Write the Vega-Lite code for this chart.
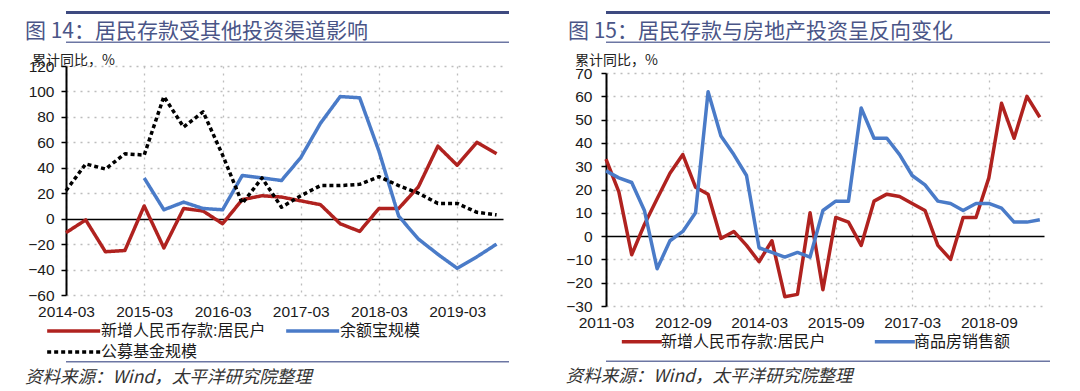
{
  "$schema": "https://vega.github.io/schema/vega-lite/v6.json",
  "padding": {"left": 25, "top": 11, "right": 5, "bottom": 0},
  "background": "white",
  "datasets": {
    "left": [
      {"date": "2014-03-01", "series": "新增人民币存款:居民户", "value": -11},
      {"date": "2014-06-01", "series": "新增人民币存款:居民户", "value": -1},
      {"date": "2014-09-01", "series": "新增人民币存款:居民户", "value": -26},
      {"date": "2014-12-01", "series": "新增人民币存款:居民户", "value": -25},
      {"date": "2015-03-01", "series": "新增人民币存款:居民户", "value": 10},
      {"date": "2015-06-01", "series": "新增人民币存款:居民户", "value": -23},
      {"date": "2015-09-01", "series": "新增人民币存款:居民户", "value": 8},
      {"date": "2015-12-01", "series": "新增人民币存款:居民户", "value": 6},
      {"date": "2016-03-01", "series": "新增人民币存款:居民户", "value": -4},
      {"date": "2016-06-01", "series": "新增人民币存款:居民户", "value": 15},
      {"date": "2016-09-01", "series": "新增人民币存款:居民户", "value": 18},
      {"date": "2016-12-01", "series": "新增人民币存款:居民户", "value": 17},
      {"date": "2017-03-01", "series": "新增人民币存款:居民户", "value": 14},
      {"date": "2017-06-01", "series": "新增人民币存款:居民户", "value": 11},
      {"date": "2017-09-01", "series": "新增人民币存款:居民户", "value": -4},
      {"date": "2017-12-01", "series": "新增人民币存款:居民户", "value": -10},
      {"date": "2018-03-01", "series": "新增人民币存款:居民户", "value": 8},
      {"date": "2018-06-01", "series": "新增人民币存款:居民户", "value": 8},
      {"date": "2018-09-01", "series": "新增人民币存款:居民户", "value": 25},
      {"date": "2018-12-01", "series": "新增人民币存款:居民户", "value": 57},
      {"date": "2019-03-01", "series": "新增人民币存款:居民户", "value": 42},
      {"date": "2019-06-01", "series": "新增人民币存款:居民户", "value": 60},
      {"date": "2019-09-01", "series": "新增人民币存款:居民户", "value": 51},
      {"date": "2015-03-01", "series": "余额宝规模", "value": 32},
      {"date": "2015-06-01", "series": "余额宝规模", "value": 7},
      {"date": "2015-09-01", "series": "余额宝规模", "value": 13},
      {"date": "2015-12-01", "series": "余额宝规模", "value": 8},
      {"date": "2016-03-01", "series": "余额宝规模", "value": 7},
      {"date": "2016-06-01", "series": "余额宝规模", "value": 34},
      {"date": "2016-09-01", "series": "余额宝规模", "value": 32},
      {"date": "2016-12-01", "series": "余额宝规模", "value": 30},
      {"date": "2017-03-01", "series": "余额宝规模", "value": 48},
      {"date": "2017-06-01", "series": "余额宝规模", "value": 75},
      {"date": "2017-09-01", "series": "余额宝规模", "value": 96},
      {"date": "2017-12-01", "series": "余额宝规模", "value": 95},
      {"date": "2018-03-01", "series": "余额宝规模", "value": 53},
      {"date": "2018-06-01", "series": "余额宝规模", "value": 2},
      {"date": "2018-09-01", "series": "余额宝规模", "value": -16},
      {"date": "2018-12-01", "series": "余额宝规模", "value": -28},
      {"date": "2019-03-01", "series": "余额宝规模", "value": -39},
      {"date": "2019-06-01", "series": "余额宝规模", "value": -30},
      {"date": "2019-09-01", "series": "余额宝规模", "value": -20},
      {"date": "2014-03-01", "series": "公募基金规模", "value": 22},
      {"date": "2014-06-01", "series": "公募基金规模", "value": 43},
      {"date": "2014-09-01", "series": "公募基金规模", "value": 39},
      {"date": "2014-12-01", "series": "公募基金规模", "value": 51},
      {"date": "2015-03-01", "series": "公募基金规模", "value": 50},
      {"date": "2015-06-01", "series": "公募基金规模", "value": 96},
      {"date": "2015-09-01", "series": "公募基金规模", "value": 72},
      {"date": "2015-12-01", "series": "公募基金规模", "value": 84},
      {"date": "2016-03-01", "series": "公募基金规模", "value": 50},
      {"date": "2016-06-01", "series": "公募基金规模", "value": 12},
      {"date": "2016-09-01", "series": "公募基金规模", "value": 32},
      {"date": "2016-12-01", "series": "公募基金规模", "value": 9},
      {"date": "2017-03-01", "series": "公募基金规模", "value": 18},
      {"date": "2017-06-01", "series": "公募基金规模", "value": 26},
      {"date": "2017-09-01", "series": "公募基金规模", "value": 26},
      {"date": "2017-12-01", "series": "公募基金规模", "value": 27},
      {"date": "2018-03-01", "series": "公募基金规模", "value": 33},
      {"date": "2018-06-01", "series": "公募基金规模", "value": 26},
      {"date": "2018-09-01", "series": "公募基金规模", "value": 20},
      {"date": "2018-12-01", "series": "公募基金规模", "value": 12},
      {"date": "2019-03-01", "series": "公募基金规模", "value": 12},
      {"date": "2019-06-01", "series": "公募基金规模", "value": 5},
      {"date": "2019-09-01", "series": "公募基金规模", "value": 3}
    ],
    "right": [
      {"date": "2011-03-01", "series": "新增人民币存款:居民户", "value": 33},
      {"date": "2011-06-01", "series": "新增人民币存款:居民户", "value": 19},
      {"date": "2011-09-01", "series": "新增人民币存款:居民户", "value": -8},
      {"date": "2011-12-01", "series": "新增人民币存款:居民户", "value": 5},
      {"date": "2012-03-01", "series": "新增人民币存款:居民户", "value": 16},
      {"date": "2012-06-01", "series": "新增人民币存款:居民户", "value": 27},
      {"date": "2012-09-01", "series": "新增人民币存款:居民户", "value": 35},
      {"date": "2012-12-01", "series": "新增人民币存款:居民户", "value": 21},
      {"date": "2013-03-01", "series": "新增人民币存款:居民户", "value": 18},
      {"date": "2013-06-01", "series": "新增人民币存款:居民户", "value": -1},
      {"date": "2013-09-01", "series": "新增人民币存款:居民户", "value": 2},
      {"date": "2013-12-01", "series": "新增人民币存款:居民户", "value": -4},
      {"date": "2014-03-01", "series": "新增人民币存款:居民户", "value": -11},
      {"date": "2014-06-01", "series": "新增人民币存款:居民户", "value": -2},
      {"date": "2014-09-01", "series": "新增人民币存款:居民户", "value": -26},
      {"date": "2014-12-01", "series": "新增人民币存款:居民户", "value": -25},
      {"date": "2015-03-01", "series": "新增人民币存款:居民户", "value": 10},
      {"date": "2015-06-01", "series": "新增人民币存款:居民户", "value": -23},
      {"date": "2015-09-01", "series": "新增人民币存款:居民户", "value": 8},
      {"date": "2015-12-01", "series": "新增人民币存款:居民户", "value": 6},
      {"date": "2016-03-01", "series": "新增人民币存款:居民户", "value": -4},
      {"date": "2016-06-01", "series": "新增人民币存款:居民户", "value": 15},
      {"date": "2016-09-01", "series": "新增人民币存款:居民户", "value": 18},
      {"date": "2016-12-01", "series": "新增人民币存款:居民户", "value": 17},
      {"date": "2017-03-01", "series": "新增人民币存款:居民户", "value": 14},
      {"date": "2017-06-01", "series": "新增人民币存款:居民户", "value": 11},
      {"date": "2017-09-01", "series": "新增人民币存款:居民户", "value": -4},
      {"date": "2017-12-01", "series": "新增人民币存款:居民户", "value": -10},
      {"date": "2018-03-01", "series": "新增人民币存款:居民户", "value": 8},
      {"date": "2018-06-01", "series": "新增人民币存款:居民户", "value": 8},
      {"date": "2018-09-01", "series": "新增人民币存款:居民户", "value": 25},
      {"date": "2018-12-01", "series": "新增人民币存款:居民户", "value": 57},
      {"date": "2019-03-01", "series": "新增人民币存款:居民户", "value": 42},
      {"date": "2019-06-01", "series": "新增人民币存款:居民户", "value": 60},
      {"date": "2019-09-01", "series": "新增人民币存款:居民户", "value": 51},
      {"date": "2011-03-01", "series": "商品房销售额", "value": 28},
      {"date": "2011-06-01", "series": "商品房销售额", "value": 25},
      {"date": "2011-09-01", "series": "商品房销售额", "value": 23},
      {"date": "2011-12-01", "series": "商品房销售额", "value": 11},
      {"date": "2012-03-01", "series": "商品房销售额", "value": -14},
      {"date": "2012-06-01", "series": "商品房销售额", "value": -2},
      {"date": "2012-09-01", "series": "商品房销售额", "value": 2},
      {"date": "2012-12-01", "series": "商品房销售额", "value": 10},
      {"date": "2013-03-01", "series": "商品房销售额", "value": 62},
      {"date": "2013-06-01", "series": "商品房销售额", "value": 43},
      {"date": "2013-09-01", "series": "商品房销售额", "value": 35},
      {"date": "2013-12-01", "series": "商品房销售额", "value": 26},
      {"date": "2014-03-01", "series": "商品房销售额", "value": -5},
      {"date": "2014-06-01", "series": "商品房销售额", "value": -7},
      {"date": "2014-09-01", "series": "商品房销售额", "value": -9},
      {"date": "2014-12-01", "series": "商品房销售额", "value": -7},
      {"date": "2015-03-01", "series": "商品房销售额", "value": -9},
      {"date": "2015-06-01", "series": "商品房销售额", "value": 11},
      {"date": "2015-09-01", "series": "商品房销售额", "value": 15},
      {"date": "2015-12-01", "series": "商品房销售额", "value": 15},
      {"date": "2016-03-01", "series": "商品房销售额", "value": 55},
      {"date": "2016-06-01", "series": "商品房销售额", "value": 42},
      {"date": "2016-09-01", "series": "商品房销售额", "value": 42},
      {"date": "2016-12-01", "series": "商品房销售额", "value": 35},
      {"date": "2017-03-01", "series": "商品房销售额", "value": 26},
      {"date": "2017-06-01", "series": "商品房销售额", "value": 22},
      {"date": "2017-09-01", "series": "商品房销售额", "value": 15},
      {"date": "2017-12-01", "series": "商品房销售额", "value": 14},
      {"date": "2018-03-01", "series": "商品房销售额", "value": 11},
      {"date": "2018-06-01", "series": "商品房销售额", "value": 14},
      {"date": "2018-09-01", "series": "商品房销售额", "value": 14},
      {"date": "2018-12-01", "series": "商品房销售额", "value": 12},
      {"date": "2019-03-01", "series": "商品房销售额", "value": 6},
      {"date": "2019-06-01", "series": "商品房销售额", "value": 6},
      {"date": "2019-09-01", "series": "商品房销售额", "value": 7}
    ]
  },
  "spacing": 56,
  "resolve": {
    "scale": {"x": "independent", "y": "independent", "color": "independent", "strokeDash": "independent", "strokeWidth": "independent"},
    "legend": {"color": "independent", "strokeDash": "independent", "strokeWidth": "independent"}
  },
  "hconcat": [
    {
      "spacing": 11,
      "title": {"text": "资料来源：Wind，太平洋研究院整理", "orient": "bottom", "anchor": "start", "frame": "bounds", "offset": 6, "fontSize": 17.5, "fontStyle": "italic", "font": "Noto Sans CJK SC", "fontWeight": "normal", "color": "#333333"},
      "resolve": {
        "scale": {"color": "independent", "strokeDash": "independent", "strokeWidth": "independent"},
        "legend": {"color": "independent", "strokeDash": "independent", "strokeWidth": "independent"}
      },
      "vconcat": [
        {
          "spacing": 6.5,
          "vconcat": [
            {"width": 443, "height": 3, "data": {"values": []}, "mark": "point", "view": {"fill": "#3e4a80", "stroke": null}},
            {"width": 443, "height": 1.5, "data": {"values": []}, "mark": "point", "view": {"fill": "#6c76a3", "stroke": null},
             "title": {"text": "图 14：居民存款受其他投资渠道影响", "anchor": "start", "frame": "group", "offset": 0, "dx": -41, "fontSize": 21, "font": "Noto Sans CJK SC", "fontWeight": "normal", "color": "#4a5587"}}
          ]
        },
        {
          "spacing": 1,
          "resolve": {
            "scale": {"color": "independent", "strokeDash": "independent", "strokeWidth": "independent"},
            "legend": {"color": "independent", "strokeDash": "independent", "strokeWidth": "independent"}
          },
          "vconcat": [
            {
              "width": 437,
              "height": 229,
              "data": {"name": "left"},
              "title": {"text": "累计同比，%", "anchor": "start", "frame": "group", "offset": -9, "dx": -34, "fontSize": 14, "font": "Noto Sans CJK SC", "fontWeight": "normal", "color": "#222222"},
              "mark": {"type": "line", "strokeJoin": "round"},
              "encoding": {
                "x": {"field": "date", "type": "temporal",
                  "scale": {"type": "utc", "nice": false, "domain": [{"year": 2014, "month": 3, "date": 1, "utc": true}, {"year": 2019, "month": 10, "date": 1, "utc": true}]},
                  "axis": {"title": null, "labelExpr": "utcFormat(datum.value, '%Y-%m')", "labelFlush": false, "labelOverlap": false, "ticks": false, "domain": false, "labelPadding": 9,
                    "values": [{"year": 2014, "month": 3, "date": 1, "utc": true}, {"year": 2015, "month": 3, "date": 1, "utc": true}, {"year": 2016, "month": 3, "date": 1, "utc": true}, {"year": 2017, "month": 3, "date": 1, "utc": true}, {"year": 2018, "month": 3, "date": 1, "utc": true}, {"year": 2019, "month": 3, "date": 1, "utc": true}]}},
                "y": {"field": "value", "type": "quantitative",
                  "scale": {"domain": [-60, 120], "nice": false},
                  "axis": {"title": null, "values": [-60, -40, -20, 0, 20, 40, 60, 80, 100, 120], "labelPadding": 7,
                    "gridColor": {"condition": {"test": "datum.value === 0", "value": "#000000"}, "value": "#bdbdbd"},
                    "gridDash": {"condition": {"test": "datum.value === 0", "value": []}, "value": [2, 5]},
                    "gridWidth": {"condition": {"test": "datum.value === 0", "value": 1.6}, "value": 1.3}}},
                "color": {"field": "series", "type": "nominal",
                  "scale": {"domain": ["新增人民币存款:居民户", "余额宝规模", "公募基金规模"], "range": ["#b0221f", "#4a7bc8", "#000000"]},
                  "legend": {"orient": "none", "legendX": -21, "legendY": 254, "direction": "horizontal", "columns": 2, "columnPadding": 13, "rowPadding": 2, "symbolSize": 312, "labelOffset": 34}},
                "strokeDash": {"field": "series", "type": "nominal",
                  "scale": {"domain": ["新增人民币存款:居民户", "余额宝规模", "公募基金规模"], "range": [[1, 0], [1, 0], [4, 3]]}},
                "strokeWidth": {"field": "series", "type": "nominal",
                  "scale": {"domain": ["新增人民币存款:居民户", "余额宝规模", "公募基金规模"], "range": [3.5, 3.5, 1.5]}}
              }
            },
            {"width": 443, "height": 1.5, "data": {"values": []}, "mark": "point", "view": {"fill": "#6c76a3", "stroke": null}}
          ]
        }
      ]
    },
    {
      "spacing": 11,
      "title": {"text": "资料来源：Wind，太平洋研究院整理", "orient": "bottom", "anchor": "start", "frame": "bounds", "offset": 6, "fontSize": 17.5, "fontStyle": "italic", "font": "Noto Sans CJK SC", "fontWeight": "normal", "color": "#333333"},
      "resolve": {
        "scale": {"color": "independent", "strokeWidth": "independent"},
        "legend": {"color": "independent", "strokeWidth": "independent"}
      },
      "vconcat": [
        {
          "spacing": 6.5,
          "vconcat": [
            {"width": 444, "height": 3, "data": {"values": []}, "mark": "point", "view": {"fill": "#3e4a80", "stroke": null}},
            {"width": 444, "height": 1.5, "data": {"values": []}, "mark": "point", "view": {"fill": "#6c76a3", "stroke": null},
             "title": {"text": "图 15：居民存款与房地产投资呈反向变化", "anchor": "start", "frame": "group", "offset": 0, "dx": -38, "fontSize": 21, "font": "Noto Sans CJK SC", "fontWeight": "normal", "color": "#4a5587"}}
          ]
        },
        {
          "spacing": 10.5,
          "resolve": {
            "scale": {"color": "independent", "strokeWidth": "independent"},
            "legend": {"color": "independent", "strokeWidth": "independent"}
          },
          "vconcat": [
            {
              "width": 438,
              "height": 233,
              "data": {"name": "right"},
              "title": {"text": "累计同比，%", "anchor": "start", "frame": "group", "offset": -2, "dx": -31, "fontSize": 14, "font": "Noto Sans CJK SC", "fontWeight": "normal", "color": "#222222"},
              "mark": {"type": "line", "strokeJoin": "round"},
              "encoding": {
                "x": {"field": "date", "type": "temporal",
                  "scale": {"type": "utc", "nice": false, "domain": [{"year": 2011, "month": 3, "date": 1, "utc": true}, {"year": 2019, "month": 10, "date": 1, "utc": true}]},
                  "axis": {"title": null, "labelExpr": "utcFormat(datum.value, '%Y-%m')", "labelFlush": false, "labelOverlap": false, "ticks": false, "domain": false, "labelPadding": 9,
                    "values": [{"year": 2011, "month": 3, "date": 1, "utc": true}, {"year": 2012, "month": 9, "date": 1, "utc": true}, {"year": 2014, "month": 3, "date": 1, "utc": true}, {"year": 2015, "month": 9, "date": 1, "utc": true}, {"year": 2017, "month": 3, "date": 1, "utc": true}, {"year": 2018, "month": 9, "date": 1, "utc": true}]}},
                "y": {"field": "value", "type": "quantitative",
                  "scale": {"domain": [-30, 70], "nice": false},
                  "axis": {"title": null, "values": [-30, -20, -10, 0, 10, 20, 30, 40, 50, 60, 70], "labelPadding": 9,
                    "gridColor": {"condition": {"test": "datum.value === 0", "value": "#000000"}, "value": "#bdbdbd"},
                    "gridDash": {"condition": {"test": "datum.value === 0", "value": []}, "value": [2, 5]},
                    "gridWidth": {"condition": {"test": "datum.value === 0", "value": 1.6}, "value": 1.3}}},
                "color": {"field": "series", "type": "nominal",
                  "scale": {"domain": ["新增人民币存款:居民户", "商品房销售额"], "range": ["#b0221f", "#4a7bc8"]},
                  "legend": {"orient": "none", "legendX": 14, "legendY": 260, "direction": "horizontal", "columns": 2, "columnPadding": 41, "rowPadding": 2, "symbolSize": 178, "labelOffset": 24}},
                "strokeWidth": {"field": "series", "type": "nominal",
                  "scale": {"domain": ["新增人民币存款:居民户", "商品房销售额"], "range": [3.5, 3.5]}}
              }
            },
            {"width": 444, "height": 1.5, "data": {"values": []}, "mark": "point", "view": {"fill": "#6c76a3", "stroke": null}}
          ]
        }
      ]
    }
  ],
  "config": {
    "view": {"stroke": null},
    "axis": {"labelFont": "Liberation Sans", "labelFontSize": 15.5, "labelColor": "#1a1a1a", "gridColor": "#bdbdbd", "gridDash": [2, 5], "gridWidth": 1.3},
    "axisY": {"domainColor": "#000000", "domainWidth": 2, "tickColor": "#000000", "tickSize": 5, "tickWidth": 1.5},
    "legend": {"title": null, "symbolType": "M-1,0H5", "labelFont": "Liberation Sans, Noto Sans CJK SC", "labelFontSize": 16, "labelColor": "#1a1a1a", "labelLimit": 300}
  }
}
